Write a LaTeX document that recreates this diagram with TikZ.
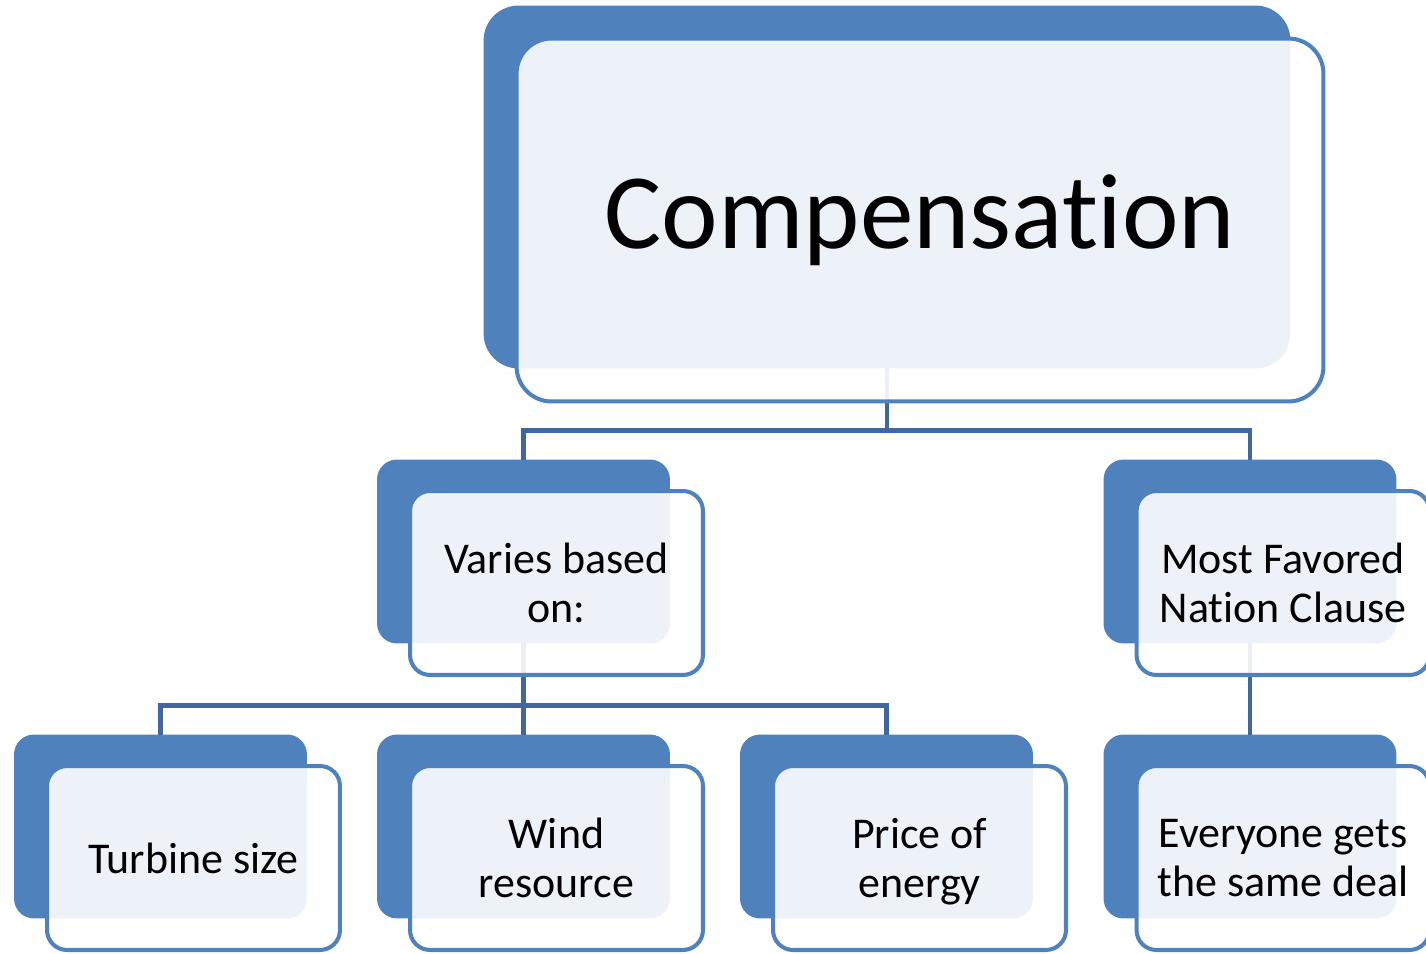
\documentclass[tikz,border=0pt]{standalone}
\usepackage{fontspec}
\setmainfont[Ligatures={NoCommon}]{Carlito}
\definecolor{accent}{RGB}{79,129,189}
\definecolor{linkblue}{RGB}{64,104,156}

\begin{document}
\begin{tikzpicture}[
		x=0.02cm,
		y=-0.02cm,
		backbox/.style={
				shape=rectangle,
				rounded corners=0.4cm,
				fill=accent,
				minimum width=5.86cm,
				minimum height=3.68cm,
				inner sep=0pt,
				outer sep=0pt
			},
		frontbox/.style={
				backbox,
				fill=white,
				fill opacity=0.9,
				text opacity=1,
				draw=accent,
				line width=2.3pt,
				align=center,
				font=\fontsize{25}{28.3}\selectfont
			},
		bigbox/.style={
				minimum width=16.14cm,
				minimum height=7.26cm,
				rounded corners=0.7cm
			},
		link/.style={
				draw=linkblue,
				line width=2.4pt
			},
	]
	\useasboundingbox (0,0) rectangle (1426,953);
	% back boxes
	\node [backbox, bigbox] (1) at (887, 187) {};
	\node [backbox] (2) at (523.5, 551.5) {};
	\node [backbox] (3) at (1250, 551.5) {};
	\node [backbox] (4) at (160.5, 826.5) {};
	\node [backbox] (5) at (523.5, 826.5) {};
	\node [backbox] (6) at (886.5, 826.5) {};
	\node [backbox] (7) at (1250, 826.5) {};
	% connectors
	\draw [link] (1.south) -- ++(0,62) -| (2.north);
	\draw [link] (1.south) -- ++(0,62) -| (3.north);
	\draw [link] (2.south) -- ++(0,62) -| (4.north);
	\draw [link] (2.south) -- ++(0,62) -| (5.north);
	\draw [link] (2.south) -- ++(0,62) -| (6.north);
	\draw [link] (3.south) -- (7.north);
	% front boxes
	\node [frontbox, bigbox, font=\fontsize{61}{72}\selectfont] (11) at (920, 220) {Compensation};
	\node [frontbox] (12) at (556.5, 583) {Varies based\\on:};
	\node [frontbox] (13) at (1283, 583) {Most Favored\\Nation Clause};
	\node [frontbox] (14) at (193.5, 858) {Turbine size};
	\node [frontbox] (15) at (556.5, 858) {Wind\\resource};
	\node [frontbox] (16) at (919.5, 858) {Price of\\\raisebox{0pt}[\height][0pt]{energy}};
	\node [frontbox] (17) at (1283, 858) {Everyone gets\\the same deal};
\end{tikzpicture}
\end{document}
